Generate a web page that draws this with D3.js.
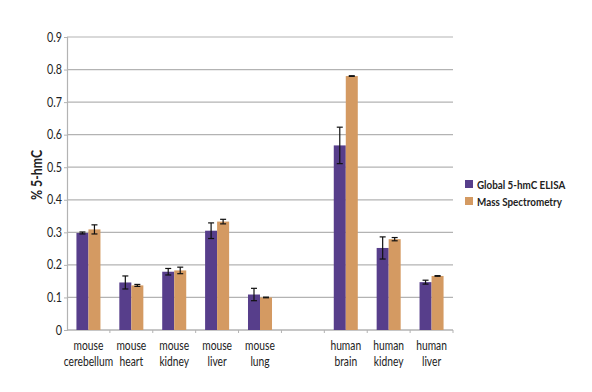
<!DOCTYPE html>
<html>
<head>
<meta charset="UTF-8">
<title>% 5-hmC</title>
<script src="https://d3js.org/d3.v7.min.js"></script>
<style>
  body { margin: 0; background: #fff; }
  text { font-family: Lato, "Open Sans", sans-serif; fill: #222; }
</style>
</head>
<body>
<svg id="chart"></svg>
<script>
// categories (empty slot between mouse lung and human brain)
const categories = ["mouse cerebellum", "mouse heart", "mouse kidney", "mouse liver", "mouse lung", "",
                    "human brain", "human kidney", "human liver"];
const seriesNames = ["Global 5-hmC ELISA", "Mass Spectrometry"];
const elisa    = [0.298, 0.146, 0.179, 0.305, 0.109, null, 0.567, 0.252, 0.147];
const elisaErr = [0.003, 0.020, 0.010, 0.024, 0.019, null, 0.056, 0.034, 0.006];
const mass     = [0.309, 0.137, 0.183, 0.333, 0.100, null, 0.780, 0.279, 0.166];
const massErr  = [0.014, 0.003, 0.010, 0.007, 0.001, null, 0.001, 0.005, 0.001];
const yTicks = [0, 0.1, 0.2, 0.3, 0.4, 0.5, 0.6, 0.7, 0.8, 0.9];
const colors = ["#573e8b", "#d49a62"];

const width = 592, height = 392;
const margin = {top: 37, right: 139, bottom: 62, left: 67};
const svg = d3.select("#chart").attr("width", width).attr("height", height);
const g = svg.append("g").attr("transform", `translate(${margin.left},${margin.top})`);
const w = width - margin.left - margin.right;
const h = height - margin.top - margin.bottom;

// the original font is a condensed one, squeeze Lato horizontally
const squeeze = 0.82;

const x = d3.scaleBand().domain(d3.range(categories.length)).range([0, w]).paddingInner(0.44).paddingOuter(0.22);
const xs = d3.scaleBand().domain([0, 1]).range([0, x.bandwidth()]);
const y = d3.scaleLinear().domain([0, 0.9]).range([h, 0]);

// gridlines
g.append("g").selectAll("line").data(yTicks).join("line")
  .attr("x1", 0).attr("x2", w)
  .attr("y1", d => y(d)).attr("y2", d => y(d))
  .attr("stroke", "#b3b3b3").attr("stroke-width", 1.2);

// y axis
const yAxis = g.append("g")
  .call(d3.axisLeft(y).tickValues(yTicks).tickSize(3).tickFormat(d => d === 0 ? "0" : d3.format(".1f")(d)));
yAxis.select(".domain").attr("stroke", "#b3b3b3").attr("stroke-width", 1.2);
yAxis.selectAll(".tick line").attr("stroke", "#b3b3b3");
yAxis.selectAll("text")
  .attr("x", -5 / 0.86)
  .attr("transform", "scale(0.86,1)")
  .style("font-size", "12.5px").style("fill", "#222");

// x axis line and boundary ticks
g.append("line").attr("x1", 0).attr("x2", w).attr("y1", h).attr("y2", h)
  .attr("stroke", "#b3b3b3").attr("stroke-width", 1.2);
const step = x.step();
g.append("g").selectAll("line").data(d3.range(1, categories.length + 1)).join("line")
  .attr("x1", d => x(d - 1) - x.paddingInner() * step / 2 + step)
  .attr("x2", d => x(d - 1) - x.paddingInner() * step / 2 + step)
  .attr("y1", h).attr("y2", h + 3)
  .attr("stroke", "#b3b3b3");

// x labels (two lines)
const xl = g.append("g").selectAll("text").data(categories).join("text")
  .attr("text-anchor", "middle")
  .attr("transform", (d, i) => `translate(${x(i) + x.bandwidth() / 2},${h + 20}) scale(${squeeze},1)`)
  .style("font-size", "12.5px");
xl.each(function(d) {
  const t = d3.select(this);
  d.split(" ").forEach((p, k) => t.append("tspan").attr("x", 0).attr("dy", k === 0 ? 0 : 16).text(p));
});

// bars
const series = [{vals: elisa, errs: elisaErr}, {vals: mass, errs: massErr}];
series.forEach((s, si) => {
  const data = categories.map((c, i) => ({i, v: s.vals[i], e: s.errs[i]})).filter(d => d.v != null);
  g.append("g").selectAll("rect").data(data).join("rect")
    .attr("x", d => x(d.i) + xs(si))
    .attr("width", xs.bandwidth())
    .attr("y", d => y(d.v))
    .attr("height", d => h - y(d.v))
    .attr("fill", colors[si]);
  const eb = g.append("g").attr("stroke", "#111").attr("stroke-width", 1.2);
  data.forEach(d => {
    const cx = x(d.i) + xs(si) + xs.bandwidth() / 2;
    eb.append("line").attr("x1", cx).attr("x2", cx).attr("y1", y(d.v + d.e)).attr("y2", y(d.v - d.e));
    eb.append("line").attr("x1", cx - 3).attr("x2", cx + 3).attr("y1", y(d.v + d.e)).attr("y2", y(d.v + d.e));
    eb.append("line").attr("x1", cx - 3).attr("x2", cx + 3).attr("y1", y(d.v - d.e)).attr("y2", y(d.v - d.e));
  });
});

// y title
svg.append("text")
  .attr("transform", `translate(42,175) rotate(-90) scale(${squeeze},1)`)
  .attr("text-anchor", "middle")
  .style("font-size", "15px").style("font-weight", "bold")
  .text("% 5-hmC");

// legend
const lg = svg.append("g").attr("transform", "translate(465,180)");
seriesNames.forEach((n, i) => {
  lg.append("rect").attr("x", 0).attr("y", i * 17).attr("width", 8).attr("height", 8).attr("fill", colors[i]);
  lg.append("text").attr("transform", `translate(12,${i * 17 + 8.5}) scale(${squeeze},1)`)
    .style("font-size", "12px").style("font-weight", "bold").text(n);
});
</script>
</body>
</html>
